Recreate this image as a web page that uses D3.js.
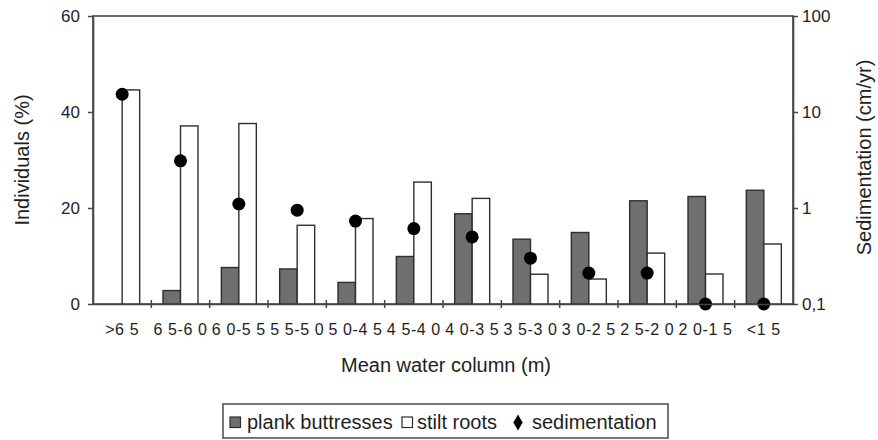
<!DOCTYPE html>
<html>
<head>
<meta charset="utf-8">
<script src="https://cdn.jsdelivr.net/npm/d3@7"></script>
<style>
  body { margin: 0; background: #fff; }
  svg { font-family: "Liberation Sans", Arial, sans-serif; }
</style>
</head>
<body>
<svg id="canvas"></svg>
<script>
const categories = ['>6 5', '6 5-6 0', '6 0-5 5', '5 5-5 0', '5 0-4 5', '4 5-4 0',
  '4 0-3 5', '3 5-3 0', '3 0-2 5', '2 5-2 0', '2 0-1 5', '<1 5'];
const plank = [0, 2.8, 7.6, 7.3, 4.5, 9.9, 18.8, 13.5, 14.9, 21.5, 22.4, 23.7];
const stilt = [44.6, 37.1, 37.6, 16.4, 17.8, 25.4, 22.0, 6.2, 5.2, 10.6, 6.25, 12.5];
const sedimentation = [15.3, 3.1, 1.1, 0.95, 0.73, 0.61, 0.5, 0.3, 0.21, 0.21, 0.1, 0.1];
const leftTicks = [0, 20, 40, 60];
const rightTicks = [0.1, 1, 10, 100];

const width = 878, height = 440;
const plotLeft = 93, plotRight = 793, plotTop = 16, plotBottom = 304;
const axisColor = '#444';
const textColor = '#1e1e1e';

let canvas = d3.select('#canvas').attr('width', width).attr('height', height);

let x = d3.scaleBand().domain(categories).range([plotLeft, plotRight]);
let y = d3.scaleLinear().domain([0, 60]).range([plotBottom, plotTop]);
let yR = d3.scaleLog().domain([0.1, 100]).range([plotBottom, plotTop]);

const barW = x.bandwidth() * 0.3;

// plot frame
canvas.append('rect')
  .attr('x', plotLeft).attr('y', plotTop)
  .attr('width', plotRight - plotLeft).attr('height', plotBottom - plotTop)
  .attr('fill', 'none').attr('stroke', axisColor).attr('stroke-width', 1.6);

let rows = categories.map((c, i) => ({ c, p: plank[i], s: stilt[i], d: sedimentation[i] }));

canvas.selectAll('.plank')
  .data(rows.filter(d => d.p > 0))
  .enter()
  .append('rect')
  .attr('class', 'plank')
  .attr('x', d => x(d.c) + x.bandwidth() / 2 - barW)
  .attr('y', d => y(d.p))
  .attr('width', barW)
  .attr('height', d => y(0) - y(d.p))
  .attr('fill', '#6f6f6f')
  .attr('stroke', '#2e2e2e')
  .attr('stroke-width', 1.4);

canvas.selectAll('.stilt')
  .data(rows)
  .enter()
  .append('rect')
  .attr('class', 'stilt')
  .attr('x', d => x(d.c) + x.bandwidth() / 2)
  .attr('y', d => y(d.s))
  .attr('width', barW)
  .attr('height', d => y(0) - y(d.s))
  .attr('fill', '#fff')
  .attr('stroke', '#2e2e2e')
  .attr('stroke-width', 1.4);

canvas.selectAll('.sed')
  .data(rows)
  .enter()
  .append('circle')
  .attr('class', 'sed')
  .attr('cx', d => x(d.c) + x.bandwidth() / 2)
  .attr('cy', d => yR(d.d))
  .attr('r', 6.5)
  .attr('fill', '#000');

// left axis
let gL = canvas.append('g')
  .attr('transform', `translate(${plotLeft},0)`)
  .call(d3.axisLeft(y).tickValues(leftTicks).tickSize(5).tickSizeOuter(0).tickPadding(8));

// right axis
let gR = canvas.append('g')
  .attr('transform', `translate(${plotRight},0)`)
  .call(d3.axisRight(yR).tickValues(rightTicks).tickSize(5).tickSizeOuter(0).tickPadding(4)
    .tickFormat(d => String(d).replace('.', ',')));

// bottom axis: labels under each category, ticks on boundaries
let gB = canvas.append('g')
  .attr('transform', `translate(0,${plotBottom})`)
  .call(d3.axisBottom(x).tickSize(0).tickSizeOuter(0));

gB.selectAll('.boundary')
  .data(categories.slice(1))
  .enter()
  .append('line')
  .attr('class', 'boundary')
  .attr('x1', d => x(d)).attr('x2', d => x(d))
  .attr('y1', -4).attr('y2', 4)
  .attr('stroke', axisColor).attr('stroke-width', 1.5);

[gL, gR, gB].forEach(g => {
  g.select('.domain').attr('stroke', axisColor).attr('stroke-width', 1.6);
  g.selectAll('.tick line').attr('stroke', axisColor).attr('stroke-width', 1.5);
  g.selectAll('text').attr('fill', textColor).style('font-family', '"Liberation Sans", Arial, sans-serif');
});
gL.selectAll('text').style('font-size', '17px');
gR.selectAll('text').style('font-size', '17px');
gB.selectAll('text')
  .attr('y', 31).attr('dy', 0)
  .style('font-size', '16px').style('letter-spacing', '0.6px');

// axis titles
canvas.append('text')
  .attr('transform', 'translate(29,160) rotate(-90)')
  .attr('text-anchor', 'middle')
  .style('font-size', '20px').attr('fill', textColor)
  .text('Individuals (%)');

canvas.append('text')
  .attr('transform', 'translate(871,157.5) rotate(-90)')
  .attr('text-anchor', 'middle')
  .style('font-size', '20px').attr('fill', textColor)
  .text('Sedimentation (cm/yr)');

canvas.append('text')
  .attr('x', 446).attr('y', 372)
  .attr('text-anchor', 'middle')
  .style('font-size', '20px').attr('fill', textColor)
  .text('Mean water column (m)');

// legend
let legend = canvas.append('g');
legend.append('rect')
  .attr('x', 223).attr('y', 404).attr('width', 445).attr('height', 34)
  .attr('fill', '#fff').attr('stroke', '#555').attr('stroke-width', 1.6);

legend.append('rect').attr('x', 230).attr('y', 417).attr('width', 10.5).attr('height', 10.5)
  .attr('fill', '#6f6f6f').attr('stroke', '#2e2e2e').attr('stroke-width', 1.2);
legend.append('text').attr('x', 247).attr('y', 429).style('font-size', '20px').attr('fill', textColor)
  .text('plank buttresses');
legend.append('rect').attr('x', 402).attr('y', 417).attr('width', 10.5).attr('height', 10.5)
  .attr('fill', '#fff').attr('stroke', '#2e2e2e').attr('stroke-width', 1.2);
legend.append('text').attr('x', 417).attr('y', 429).style('font-size', '20px').attr('fill', textColor)
  .text('stilt roots');
legend.append('path')
  .attr('d', d3.symbol().type(d3.symbolDiamond).size(75)())
  .attr('transform', 'translate(518,422.5)')
  .attr('fill', '#000');
legend.append('text').attr('x', 532).attr('y', 429).style('font-size', '20px').attr('fill', textColor)
  .text('sedimentation');
</script>
</body>
</html>
